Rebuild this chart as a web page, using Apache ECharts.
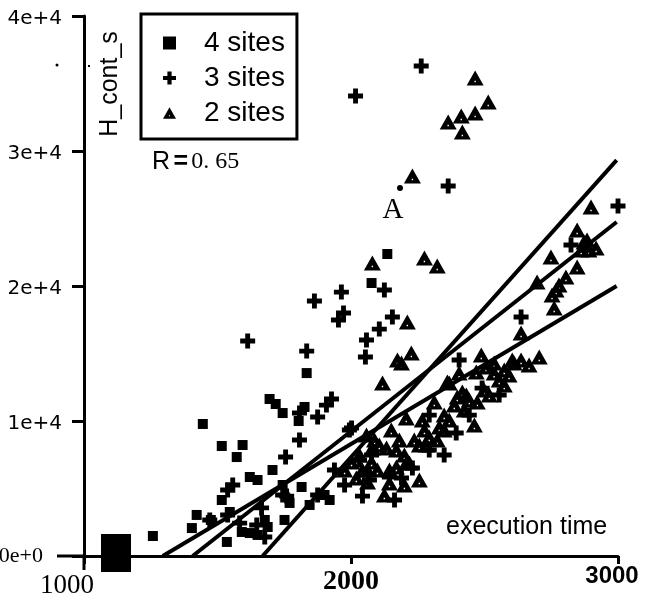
<!DOCTYPE html>
<html>
<head>
<meta charset="utf-8">
<script src="https://cdn.jsdelivr.net/npm/echarts@6/dist/echarts.min.js"></script>
<style>html,body{margin:0;padding:0;background:#fff;}#c{width:646px;height:607px;}</style>
</head>
<body>
<div id="c"></div>
<script>
// ---- data ----
const seriesNames = ['4 sites', '3 sites', '2 sites'];
const xTickLabels = ['1000', '2000', '3000'];
const yTickLabels = ['0e+0', '1e+4', '2e+4', '3e+4', '4e+4'];

const sites4 = [
  [1258,1480],[1445,9780],[1516,8150],[1594,8220],[1572,7330],[1695,11630],[1718,11260],
  [1744,10590],[1826,11040],[1804,10000],[1834,13550],[2077,20220],[2136,22370],[1422,3040],
  [1475,2670],[1404,2070],[1535,1040],[1591,1780],[1621,1700],[1650,1560],[1688,2150],
  [1516,4150],[1621,5850],[1706,6370],[1650,5630],[1546,3260],[1815,5110],[1744,5260],
  [1751,2670],[1845,3780],[1920,4150],[1901,4520],[1770,3930],[1677,2670]
];
const sites3 = [
  [1613,15930],[1863,18890],[1964,19550],[1834,15180],[1972,18000],[1953,17480],[2125,19700],
  [2155,17700],[2106,16810],[2058,16000],[2054,14740],[1927,11630],[1908,11180],[1875,10300],
  [1807,10590],[1807,8590],[1755,7330],[2002,9480],[2263,36300],[2017,34070],[2364,27410],
  [3000,25930],[2637,17700],[2824,23040],[2405,14520],[2491,12440],[2293,10440],[2394,9110],
  [2293,7850],[2230,6520],[2144,5850],[1994,9330],[1976,5260],[2043,4440],[1759,4440],
  [1557,5260],[1538,4890],[1744,4520],[1665,3560],[1538,3040],[1471,2670],[1677,1410],
  [1583,2440],[1647,2300],[1875,4520],[1938,6370],[2032,7110],[2077,7480],[2163,4150],
  [2069,5630],[2189,5780],[2349,7480],[2443,10440],[2555,11930]
];
const sites2 = [
  [2465,35410],[2514,33630],[2465,32810],[2413,32590],[2364,32150],[2417,31410],[2230,28150],
  [2080,21700],[2275,22070],[2323,21480],[2899,25850],[2847,24150],[2749,22150],[2847,21410],
  [2805,20670],[2768,19700],[2697,20300],[2873,23260],[2918,22810],[2884,23410],[2862,22670],
  [2761,18370],[2753,19330],[2637,16520],[2604,14520],[2637,14520],[2118,12810],[2174,14520],
  [2226,15040],[2189,14300],[2405,13550],[2368,12810],[2432,11930],[2398,11780],[2312,11410],
  [2462,9700],[2144,5410],[2267,10070],[2331,9560],[2207,10220],[2170,7850],[2106,8220],
  [2058,8960],[2207,6890],[2144,6370],[2062,6370],[2020,5780],[2488,14890],[2536,14300],
  [2611,14300],[2469,13630],[2361,12890],[2417,12150],[2349,9330],[2293,8810],[2282,8220],
  [2080,8000],[2133,8000],[2200,7480],[2077,6960],[2043,6370],[2099,6370],[2170,6590],
  [2062,5480],[2219,6890],[2211,17330],[2506,14000],[2536,13550],
  [2237,8590],[2275,9330],[2349,10440],[2387,11190],[2443,11560],[2499,12300],[2555,13040],
  [2574,13780],[2125,4520],[2200,5260],[2256,5630],[2891,22670],[2779,20070],
  [1976,6370],[2002,6960],[2032,7480],[2088,8590],[2151,9330],[2181,8590],[2256,8220],
  [2323,8590],[2368,10070],[2424,10810],[2473,11410],[2518,11930],[2574,12670],[2592,13410],
  [2667,14150],[2705,14740]
];
// regression lines (start, end)
const fitLineA = [[1295,0],[2995,20000]];
const fitLineB = [[1407,0],[2995,24740]];
const fitLineC = [[1669,0],[2995,29330]];
const rText = '0. 65';

// ---- chart ----
const SANS = 'Liberation Sans', WIDE = 'DejaVu Sans', SERIF = 'Liberation Serif';
const triPath = 'path://M8.5,0 L17,15 L0,15 Z M7.8,10.3 L7.8,11.8 L9.2,11.8 L9.2,10.3 Z';
const plusPath = 'path://M5,0 H9.8 V5 H14.8 V9.8 H9.8 V14.8 H5 V9.8 H0 V5 H5 Z';

const chart = echarts.init(document.getElementById('c'), null, {renderer: 'canvas'});
const lineStyle = {color: '#000', width: 4};
function fitSeries(name, d) {
  return {name: name, type: 'line', data: d, symbol: 'none', silent: true, z: 5,
          lineStyle: lineStyle, animation: false};
}
chart.setOption({
  animation: false,
  backgroundColor: '#fff',
  grid: {left: 84, right: 28, top: 16, bottom: 51, containLabel: false, outerBoundsMode: 'none'},
  xAxis: {
    type: 'value', min: 1000, max: 3000, interval: 1000,
    name: 'execution time', nameLocation: 'end', nameGap: -172,
    nameTextStyle: {fontFamily: SANS, fontSize: 25, color: '#000', align: 'left',
                    verticalAlign: 'bottom', padding: [0, 0, 16, 0]},
    axisLine: {lineStyle: {color: '#000', width: 3}},
    axisTick: {length: 8, lineStyle: {color: '#000', width: 3}},
    splitLine: {show: false},
    axisLabel: {
      margin: 8, color: '#000', hideOverlap: false,
      formatter: function (v) {
        const i = Math.round((v - 1000) / 1000);
        return '{s' + i + '|' + xTickLabels[i] + '}';
      },
      rich: {
        s0: {fontFamily: SERIF, fontSize: 27, color: '#000', padding: [8, 34, 0, 0]},
        s1: {fontFamily: SERIF, fontWeight: 'bold', fontSize: 28, color: '#000', padding: [4, 0, 0, 0]},
        s2: {fontFamily: SANS, fontWeight: 'bold', fontSize: 24, color: '#000', padding: [0, 12, 0, 0]}
      }
    }
  },
  yAxis: {
    type: 'value', min: 0, max: 40000, interval: 10000,
    axisLine: {show: true, lineStyle: {color: '#000', width: 3}},
    axisTick: {show: true, length: 12, lineStyle: {color: '#000', width: 3}},
    splitLine: {show: false},
    axisLabel: {
      margin: 22, color: '#000', hideOverlap: false,
      formatter: function (v) {
        const i = Math.round(v / 10000);
        return i === 0 ? '{serif|' + yTickLabels[0] + '}' : '{sans|' + yTickLabels[i] + '}';
      },
      rich: {
        sans: {fontFamily: WIDE, fontSize: 20, color: '#000', padding: [5, 0, 0, 0]},
        serif: {fontFamily: SERIF, fontSize: 22, color: '#000', padding: [0, 19, 0, 0]}
      }
    }
  },
  legend: {
    data: seriesNames, orient: 'vertical', left: 141, top: 14,
    padding: [15, 12, 12, 22], itemGap: 7, itemWidth: 13, itemHeight: 13,
    borderColor: '#000', borderWidth: 3, backgroundColor: '#fff',
    textStyle: {fontFamily: SANS, fontSize: 28, color: '#000', padding: [0, 0, 0, 23]},
    selectedMode: false
  },
  series: [
    {name: seriesNames[0], type: 'scatter', data: sites4, symbol: 'rect', symbolSize: 10,
     itemStyle: {color: '#000', opacity: 1}, z: 3},
    {name: seriesNames[1], type: 'scatter', data: sites3, symbol: plusPath, symbolSize: 15,
     itemStyle: {color: '#000', opacity: 1}, z: 3},
    {name: seriesNames[2], type: 'scatter', data: sites2, symbol: triPath, symbolSize: [17, 15],
     itemStyle: {color: '#000', opacity: 1}, z: 3},
    fitSeries('fit A', fitLineA),
    fitSeries('fit B', fitLineB),
    fitSeries('fit C', fitLineC)
  ],
  graphic: [
    {type: 'text', x: 110, y: 84, rotation: Math.PI / 2,
     style: {text: 'H_cont_s', fontFamily: SANS, fontSize: 25, fill: '#000',
             align: 'center', verticalAlign: 'middle'}},
    {type: 'text', x: 152, y: 162,
     style: {text: '{r|R} {e|=} {n|' + rText + '}', align: 'left', verticalAlign: 'middle',
             rich: {r: {fontFamily: SANS, fontSize: 25, fill: '#000'},
                    e: {fontFamily: SANS, fontWeight: 'bold', fontSize: 25, fill: '#000'},
                    n: {fontFamily: SERIF, fontSize: 24, fill: '#000'}}}},
    {type: 'text', x: 393, y: 210,
     style: {text: 'A', fontFamily: SERIF, fontSize: 29, fill: '#000', align: 'center', verticalAlign: 'middle'}},
    {type: 'circle', shape: {cx: 400, cy: 188, r: 3}, style: {fill: '#000'}},
    {type: 'circle', shape: {cx: 57, cy: 65, r: 1.5}, style: {fill: '#000'}},
    {type: 'rect', shape: {x: 88, y: 65, width: 2, height: 2}, style: {fill: '#000'}},
    {type: 'rect', shape: {x: 101, y: 534, width: 30, height: 38}, style: {fill: '#000'}},
    {type: 'line', shape: {x1: 57, y1: 556, x2: 84, y2: 556}, style: {stroke: '#000', lineWidth: 3}},
    {type: 'line', shape: {x1: 84, y1: 556, x2: 84, y2: 570}, style: {stroke: '#000', lineWidth: 3}}
  ]
});
</script>
</body>
</html>
